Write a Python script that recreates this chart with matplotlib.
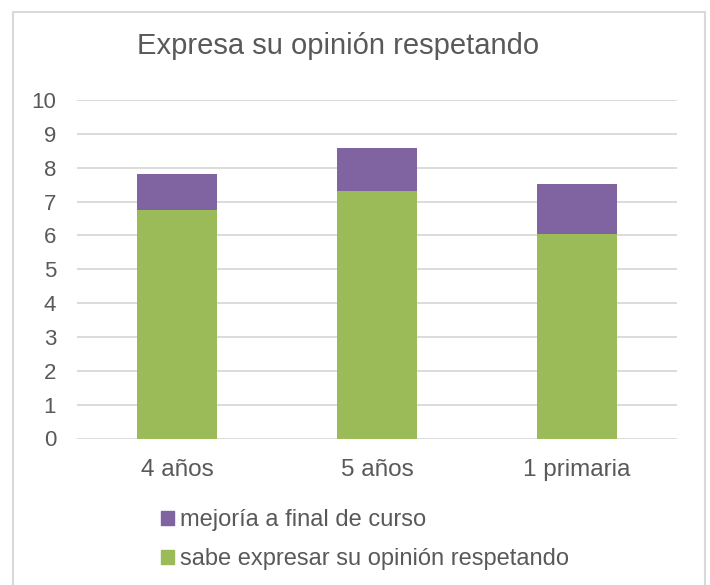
import matplotlib
matplotlib.use("Agg")
import matplotlib.pyplot as plt
from matplotlib.patches import Rectangle, Patch
import numpy as np

categories = ["4 años", "5 años", "1 primaria"]
sabe = [6.75, 7.3, 6.05]
mejoria = [1.07, 1.27, 1.47]
series_names = ["mejoría a final de curso", "sabe expresar su opinión respetando"]
title = "Expresa su opinión respetando"

GREEN = "#9BBB59"
PURPLE = "#8064A2"
TEXT = "#595959"
GRID = "#D9D9D9"

plt.rcParams['font.family'] = ['Liberation Sans', 'DejaVu Sans']

fig = plt.figure(figsize=(7.1, 5.85), dpi=100)
W, H = 710, 585
ax = fig.add_axes([77 / W, 1 - 438.5 / H, (677 - 77) / W, (438.5 - 100) / H])

x = np.arange(len(categories))
ax.bar(x, sabe, width=0.4, color=GREEN, zorder=3)
ax.bar(x, mejoria, bottom=sabe, width=0.4, color=PURPLE, zorder=3)

ax.set_xlim(-0.5, len(categories) - 0.5)
ax.set_ylim(0, 10)
ax.set_yticks(range(0, 11))
ax.yaxis.grid(True, color=GRID, linewidth=1.3, zorder=0)
ax.set_axisbelow(True)
for s in ax.spines.values():
    s.set_visible(False)
ax.tick_params(axis='y', length=0, colors=TEXT, labelsize=16, pad=15)
ax.tick_params(axis='x', length=0, colors=TEXT, labelsize=17.5, pad=15)
ax.set_xticks(x)
ax.set_xticklabels(categories)

fig.text(338.5 / W, 1 - 46 / H, title, ha='center', va='center', fontsize=21, color=TEXT)

handles = [Patch(color=PURPLE), Patch(color=GREEN)]
fig.legend(handles, series_names, loc='upper left', bbox_to_anchor=(152 / W, 1 - 500 / H),
           frameon=False, fontsize=17, labelcolor=TEXT, handlelength=0.55, handleheight=0.55,
           handletextpad=0.25, labelspacing=0.7, borderaxespad=0)

fig.patches.append(Rectangle((13 / W, -0.1), (705 - 13) / W, 1.1 - 12 / H, transform=fig.transFigure,
                             fill=False, edgecolor=GRID, linewidth=1.5, zorder=0))

fig.savefig("out.png", dpi=100)
